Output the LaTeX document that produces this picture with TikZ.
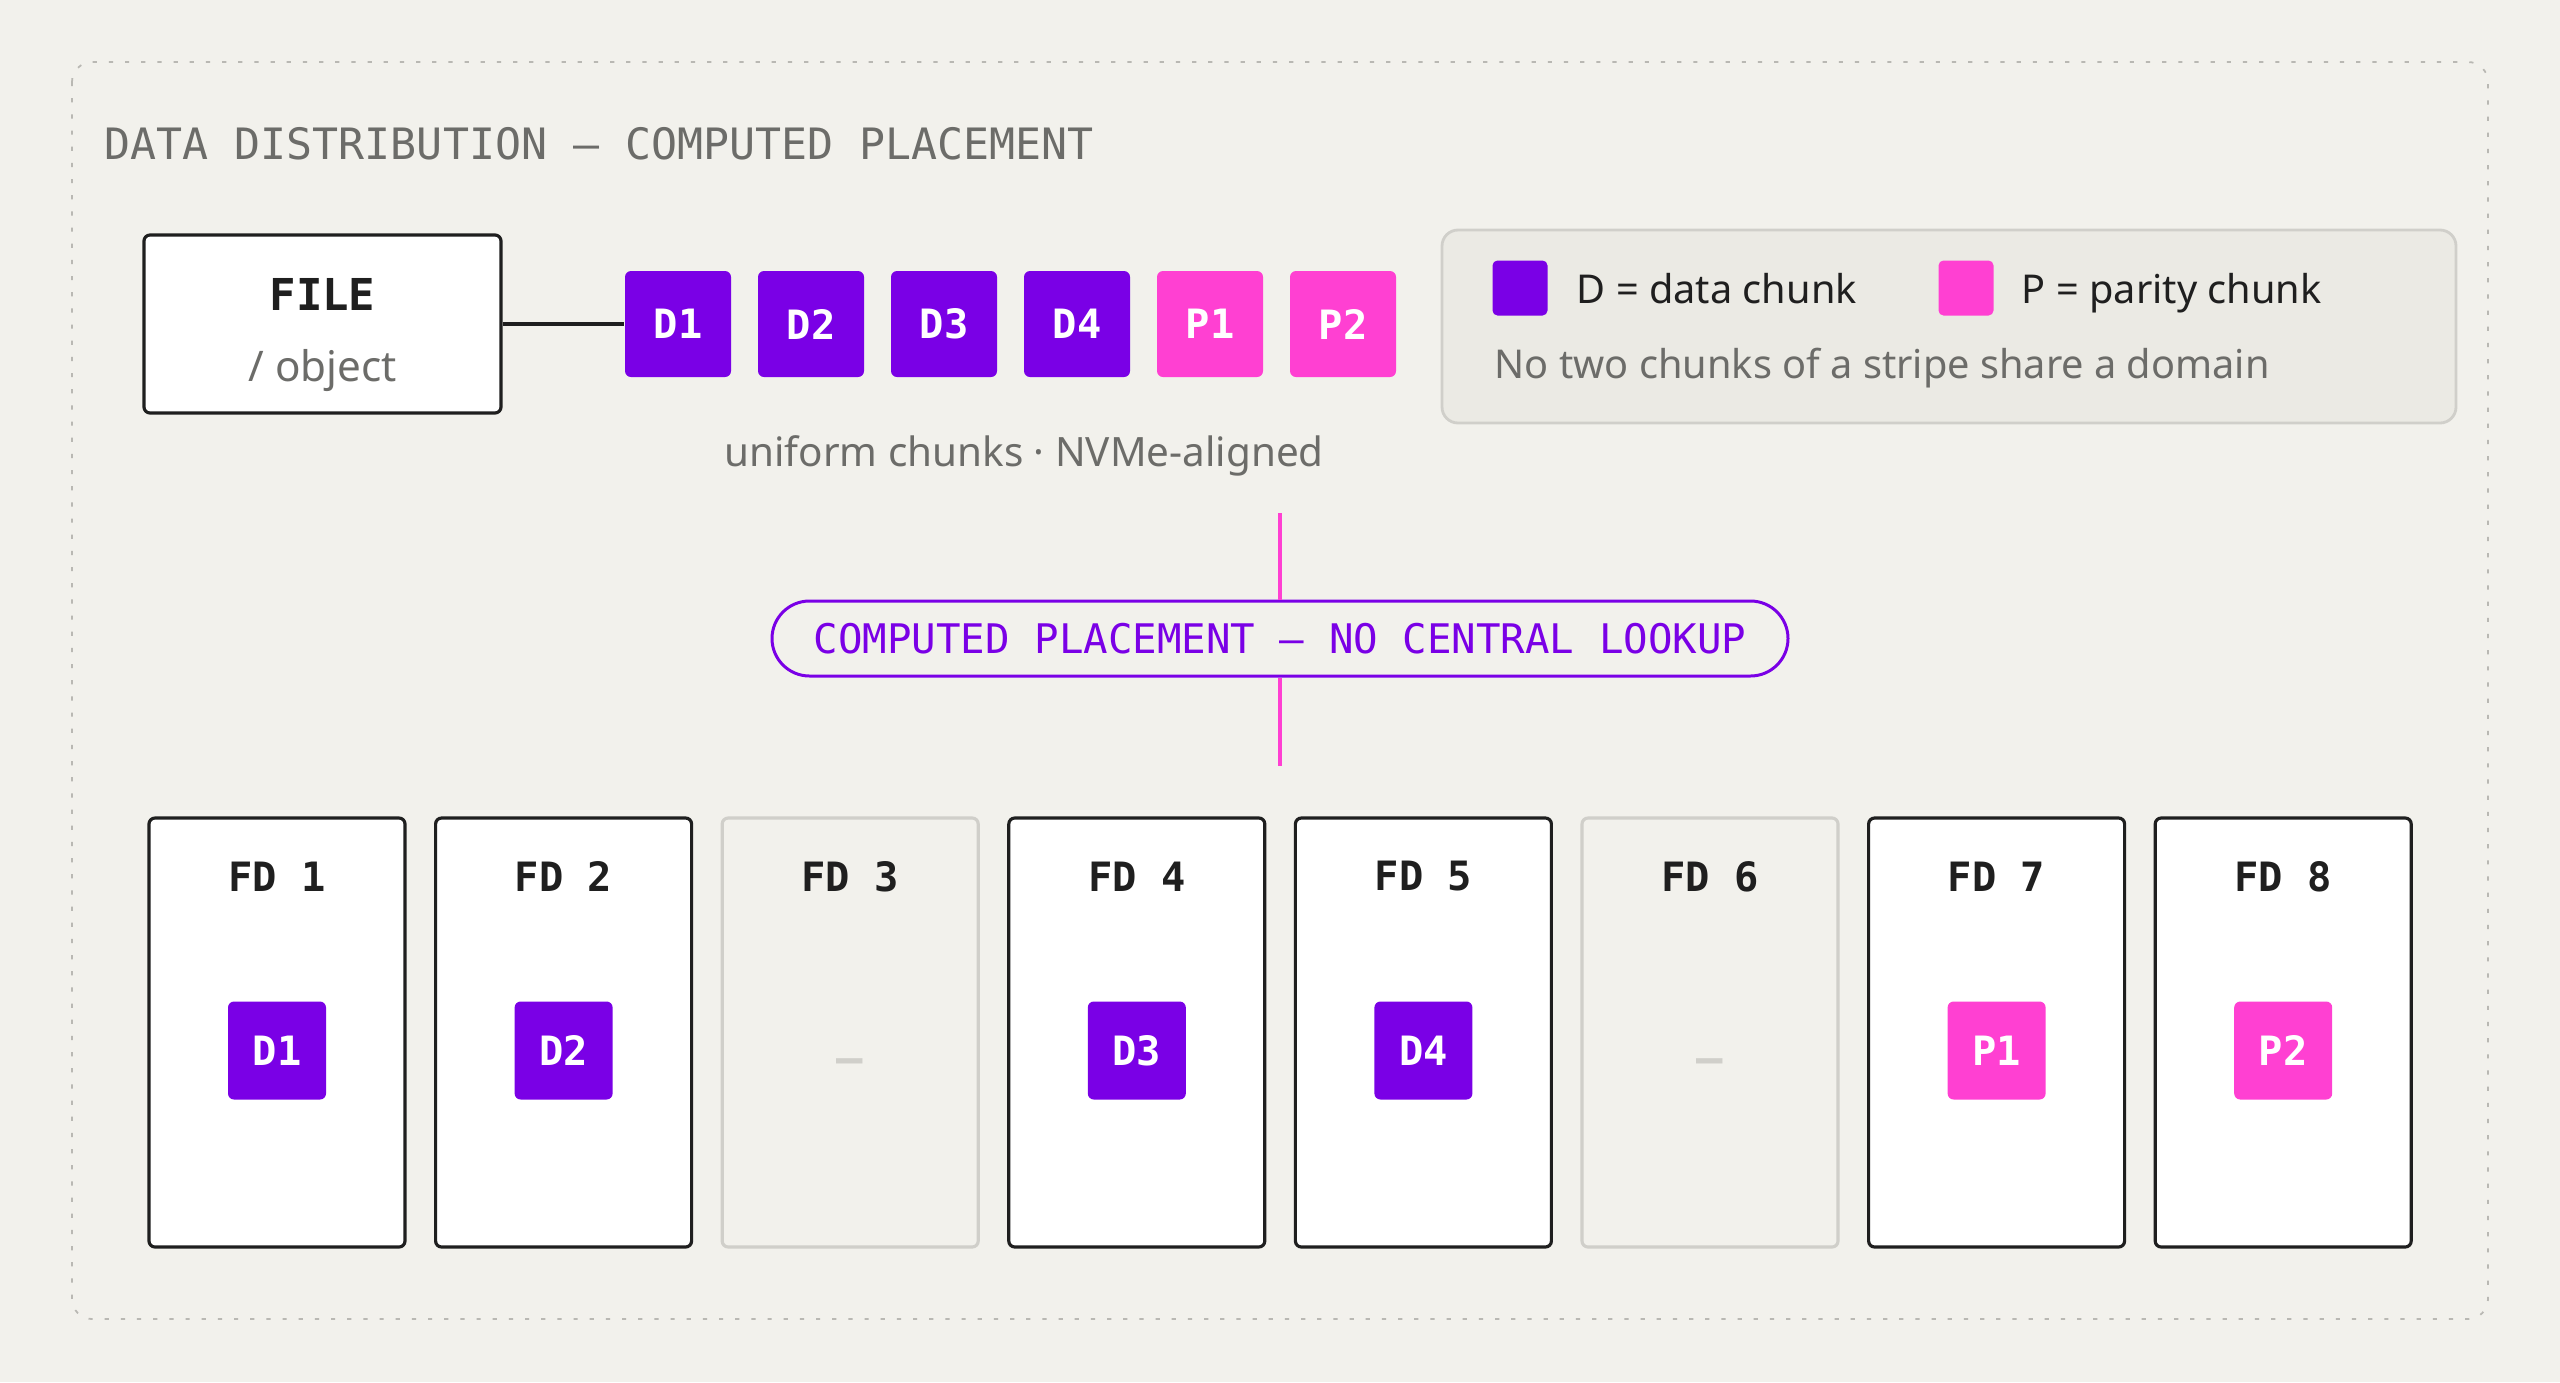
\documentclass[tikz,border=0pt]{standalone}
\usepackage{fontspec}
\setmainfont{Noto Sans}
\setmonofont{DejaVu Sans Mono}
\usetikzlibrary{positioning}

\definecolor{pagebg}{HTML}{F2F1EC}
\definecolor{datapurple}{HTML}{7A00E6}
\definecolor{paritypink}{HTML}{FF40D2}
\definecolor{inkdark}{HTML}{1F1F1F}
\definecolor{inkgray}{HTML}{6C6C69}
\definecolor{keyfill}{HTML}{EBEAE4}
\definecolor{softline}{HTML}{D0CFCA}
\definecolor{frameline}{HTML}{B9B8B3}

\tikzset{
  frame/.style={draw=frameline, line width=0.5pt, dash pattern=on 1.2pt off 3.4pt, rounded corners=0.2cm},
  heading/.style={text=inkgray, font=\ttfamily\fontsize{12.3}{14}\selectfont, anchor=west, inner sep=0pt},
  filebox/.style={draw=inkdark, fill=white, line width=0.9pt, rounded corners=0.06cm,
    minimum width=3.57cm, minimum height=1.78cm, inner sep=0pt},
  chunk/.style={rounded corners=0.06cm, minimum size=1.06cm, inner sep=0pt, text=white,
    font=\ttfamily\bfseries\fontsize{11.5}{13}\selectfont},
  chunkD/.style={chunk, fill=datapurple},
  chunkP/.style={chunk, fill=paritypink},
  slotD/.style={chunkD, minimum size=0.98cm},
  slotP/.style={chunkP, minimum size=0.98cm},
  link/.style={draw=inkdark, line width=1.1pt},
  note/.style={text=inkgray, font=\fontsize{11.5}{14}\selectfont, inner sep=0pt},
  keybox/.style={draw=softline, fill=keyfill, line width=0.8pt, rounded corners=0.16cm,
    minimum width=10.14cm, minimum height=1.93cm, inner sep=0pt},
  keysq/.style={rounded corners=0.05cm, minimum size=0.55cm, inner sep=0pt},
  keytext/.style={text=inkdark, font=\fontsize{11.3}{14}\selectfont, inner sep=0pt, anchor=base west},
  pill/.style={draw=datapurple, fill=pagebg, line width=0.85pt, rounded corners=0.375cm,
    minimum width=10.16cm, minimum height=0.75cm, inner sep=0pt, text=datapurple,
    font=\ttfamily\fontsize{11.6}{13}\selectfont},
  pinkline/.style={draw=paritypink, line width=1.35pt},
  fdbox/.style={draw=inkdark, fill=white, line width=0.9pt, rounded corners=0.06cm,
    minimum width=2.56cm, minimum height=4.29cm, inner sep=0pt},
  fdempty/.style={fdbox, draw=softline, fill=pagebg},
  fdname/.style={text=inkdark, font=\ttfamily\bfseries\fontsize{11.5}{13}\selectfont, inner sep=0pt},
  slotnone/.style={text=softline, font=\ttfamily\bfseries\fontsize{12.5}{13}\selectfont, inner sep=0pt}
}

\begin{document}
\begin{tikzpicture}[node distance=1.33cm, on grid]
  \fill[pagebg] (0,0) rectangle (25.6,-13.82);
  \useasboundingbox (0,0) rectangle (25.6,-13.82);
  \draw[frame] (0.72,-0.62) rectangle (24.88,-13.19);

  \node[heading] (title) at (1.04,-1.44) {DATA DISTRIBUTION — COMPUTED PLACEMENT};

  % file split into chunks
  \node[filebox] (file) at (3.225,-3.24) {};
  \node[fdname, font=\ttfamily\bfseries\fontsize{12.5}{14}\selectfont] (filename) at ([yshift=0.30cm]file.center) {FILE};
  \node[note, font=\fontsize{12}{14}\selectfont] (filesub) at ([yshift=-0.47cm]file.center) {/ object};

  \node[chunkD] (d1) at (6.78,-3.24) {D1};
  \node[chunkD] (d2) [right=of d1] {D2};
  \node[chunkD] (d3) [right=of d2] {D3};
  \node[chunkD] (d4) [right=of d3] {D4};
  \node[chunkP] (p1) [right=of d4] {P1};
  \node[chunkP] (p2) [right=of p1] {P2};
  \draw[link] (file) -- (d1);

  \node[note] (uniform) at (10.24,-4.56) {uniform chunks · NVMe-aligned};

  % legend
  \node[keybox] (legend) at (19.49,-3.265) {};
  \node[keysq, fill=datapurple] (keyd) at (15.20,-2.88) {};
  \node[keytext] (keydtext) at ([xshift=0.28cm, yshift=-0.15cm]keyd.east) {D = data chunk};
  \node[keysq, fill=paritypink] (keyp) at (19.66,-2.88) {};
  \node[keytext] (keyptext) at ([xshift=0.27cm, yshift=-0.15cm]keyp.east) {P = parity chunk};
  \node[keytext, text=inkgray] (keyrule) at (14.94,-3.78) {No two chunks of a stripe share a domain};

  % placement
  \node[pill] (pill) at (12.80,-6.385) {COMPUTED PLACEMENT — NO CENTRAL LOOKUP};
  \coordinate (splittop) at (12.80,-5.13);
  \coordinate (splitbot) at (12.80,-7.66);
  \draw[pinkline] (splittop) -- (pill.north);
  \draw[pinkline] (pill.south) -- (splitbot);

  % failure domains
  \node[fdbox]   (fd1) at (2.77,-10.325) {};
  \node[fdbox]   (fd2) [right=2.866cm of fd1] {};
  \node[fdempty] (fd3) [right=2.866cm of fd2] {};
  \node[fdbox]   (fd4) [right=2.866cm of fd3] {};
  \node[fdbox]   (fd5) [right=2.866cm of fd4] {};
  \node[fdempty] (fd6) [right=2.866cm of fd5] {};
  \node[fdbox]   (fd7) [right=2.866cm of fd6] {};
  \node[fdbox]   (fd8) [right=2.866cm of fd7] {};

  \node[fdname] (fd1name) at ([yshift=-0.6cm]fd1.north) {FD 1};
  \node[fdname] (fd2name) at ([yshift=-0.6cm]fd2.north) {FD 2};
  \node[fdname] (fd3name) at ([yshift=-0.6cm]fd3.north) {FD 3};
  \node[fdname] (fd4name) at ([yshift=-0.6cm]fd4.north) {FD 4};
  \node[fdname] (fd5name) at ([yshift=-0.6cm]fd5.north) {FD 5};
  \node[fdname] (fd6name) at ([yshift=-0.6cm]fd6.north) {FD 6};
  \node[fdname] (fd7name) at ([yshift=-0.6cm]fd7.north) {FD 7};
  \node[fdname] (fd8name) at ([yshift=-0.6cm]fd8.north) {FD 8};

  \node[slotD]    (fd1slot) at ([yshift=-0.18cm]fd1.center) {D1};
  \node[slotD]    (fd2slot) at ([yshift=-0.18cm]fd2.center) {D2};
  \node[slotnone] (fd3slot) at ([yshift=-0.34cm]fd3.center) {—};
  \node[slotD]    (fd4slot) at ([yshift=-0.18cm]fd4.center) {D3};
  \node[slotD]    (fd5slot) at ([yshift=-0.18cm]fd5.center) {D4};
  \node[slotnone] (fd6slot) at ([yshift=-0.34cm]fd6.center) {—};
  \node[slotP]    (fd7slot) at ([yshift=-0.18cm]fd7.center) {P1};
  \node[slotP]    (fd8slot) at ([yshift=-0.18cm]fd8.center) {P2};
\end{tikzpicture}
\end{document}
